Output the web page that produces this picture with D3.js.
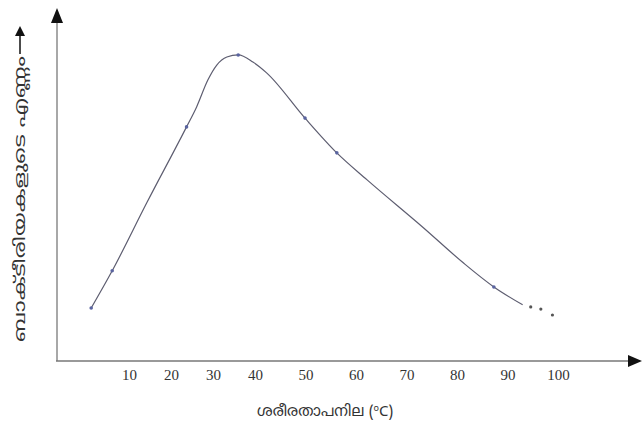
<!DOCTYPE html>
<html>
<head>
<meta charset="utf-8">
<script src="https://cdn.jsdelivr.net/npm/d3@7"></script>
<style>
  body { margin: 0; background: #fff; }
  .tick text { font-family: "Liberation Serif", "DejaVu Serif", serif; font-size: 15px; fill: #333; }
  .axis-title { font-family: "Noto Sans Malayalam", "Noto Sans", sans-serif; fill: #333; }
</style>
</head>
<body>
<svg id="chart"></svg>
<script>
// temperature (°C) and bacterial count (arbitrary units)
const temps  = [1, 6, 14.2, 23.7, 26.1, 28.8, 30.9, 33.3, 36, 39.5, 42.3, 49.9, 56.2, 62.2, 73.4, 81.3, 87.3, 93];
const counts = [15.1, 25.7, 45, 66.7, 72.4, 80.1, 84.3, 86.6, 87.2, 85.2, 82.1, 69.2, 59.3, 51.6, 37.9, 27.9, 21.1, 16];
// points drawn with a small marker
const markedTemps = [1, 6, 23.7, 36, 49.9, 56.2, 87.3];
// loose dots after the end of the line
const tailTemps  = [94.6, 96.6, 98.9];
const tailCounts = [15.4, 14.8, 13.1];
const tickValues = [10, 20, 30, 40, 50, 60, 70, 80, 90, 100];

const xTitle = 'ശരീരതാപനില (';
const yTitle = 'ബാക്ടീരിയകളുടെ എണ്ണം';

const width = 643, height = 423;
const originX = 57, originY = 361;

const svg = d3.select('#chart')
    .attr('width', width)
    .attr('height', height);

// the printed ticks are not evenly spaced, so a piecewise scale
const x = d3.scaleLinear()
    .domain([10, 40, 100])
    .range([129, 255, 558]);

const y = d3.scaleLinear()
    .domain([0, 100])
    .range([originY, 10]);

// axes with arrow heads
svg.append('line')
    .attr('x1', originX).attr('x2', originX)
    .attr('y1', originY).attr('y2', 20)
    .attr('stroke', '#a8a8a8')
    .attr('stroke-width', 2);
svg.append('path')
    .attr('d', `M${originX - 6},23 L${originX},8 L${originX + 6},23 Z`)
    .attr('fill', '#111');

svg.append('line')
    .attr('x1', originX - 1).attr('x2', 630)
    .attr('y1', originY).attr('y2', originY)
    .attr('stroke', '#777')
    .attr('stroke-width', 1.6);
svg.append('path')
    .attr('d', `M628,${originY - 6} L642,${originY} L628,${originY + 6} Z`)
    .attr('fill', '#111');

const xAxis = d3.axisBottom(x)
    .tickValues(tickValues)
    .tickSize(0)
    .tickPadding(8);

svg.append('g')
    .attr('class', 'axis x-axis')
    .attr('transform', `translate(0,${originY})`)
    .call(xAxis)
    .call(g => g.select('.domain').remove());

// curve
const data = temps.map((t, i) => ({t: t, c: counts[i]}));

const line = d3.line()
    .x(d => x(d.t))
    .y(d => y(d.c))
    .curve(d3.curveMonotoneX);

svg.append('path')
    .datum(data)
    .attr('fill', 'none')
    .attr('stroke', '#5d5d70')
    .attr('stroke-width', 1.2)
    .attr('d', line);

svg.selectAll('.marker')
    .data(data.filter(d => markedTemps.includes(d.t)))
  .join('circle')
    .attr('class', 'marker')
    .attr('cx', d => x(d.t))
    .attr('cy', d => y(d.c))
    .attr('r', 1.8)
    .attr('fill', '#5a64a0');

svg.selectAll('.tail')
    .data(tailTemps.map((t, i) => ({t: t, c: tailCounts[i]})))
  .join('circle')
    .attr('class', 'tail')
    .attr('cx', d => x(d.t))
    .attr('cy', d => y(d.c))
    .attr('r', 1.6)
    .attr('fill', '#555');

// x title
const xt = svg.append('text')
    .attr('class', 'axis-title')
    .attr('x', 325)
    .attr('y', 416)
    .attr('text-anchor', 'middle')
    .style('font-size', '15px');
xt.append('tspan').text(xTitle);
xt.append('tspan').attr('dy', -5).style('font-size', '9px').text('o');
xt.append('tspan').attr('dy', 5).text('C)');

// y title, read bottom to top, with an arrow
svg.append('text')
    .attr('class', 'axis-title')
    .attr('transform', 'translate(25,199) rotate(-90)')
    .attr('text-anchor', 'middle')
    .attr('textLength', 286)
    .attr('lengthAdjust', 'spacingAndGlyphs')
    .style('font-size', '15px')
    .text(yTitle);

svg.append('line')
    .attr('x1', 20).attr('x2', 20)
    .attr('y1', 54).attr('y2', 34)
    .attr('stroke', '#111')
    .attr('stroke-width', 1.5);
svg.append('path')
    .attr('d', 'M15,36 L20,26 L25,36 Z')
    .attr('fill', '#111');
</script>
</body>
</html>
